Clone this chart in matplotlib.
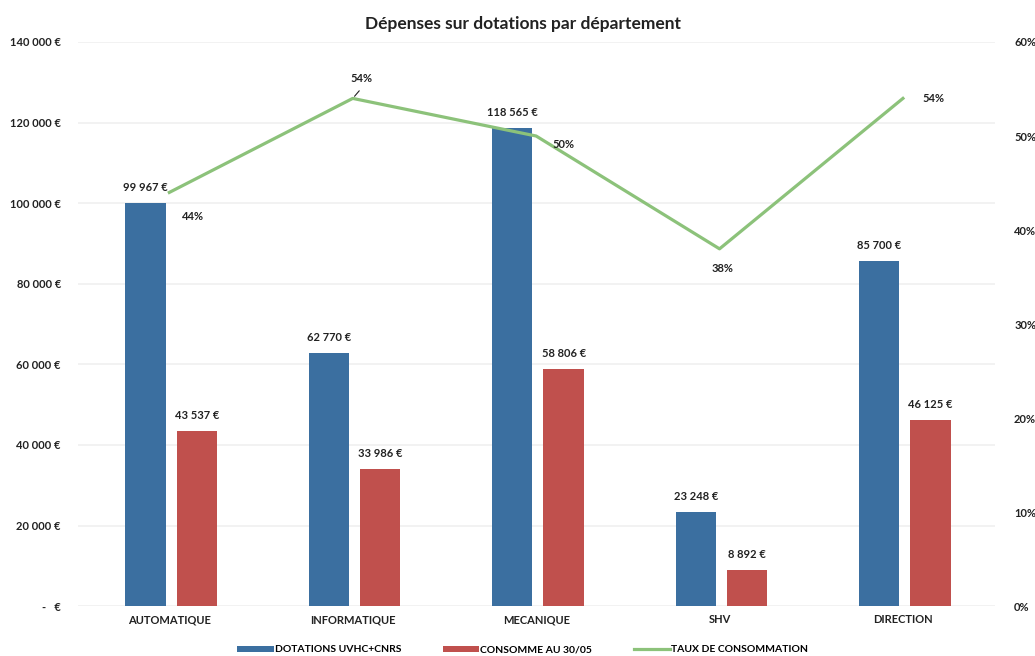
import matplotlib.pyplot as plt
import numpy as np
from matplotlib.ticker import FuncFormatter

plt.rcParams['font.family'] = ['Lato', 'DejaVu Sans']

# Data
departements = ["AUTOMATIQUE", "INFORMATIQUE", "MECANIQUE", "SHV", "DIRECTION"]
dotations = [99967, 62770, 118565, 23248, 85700]
consomme = [43537, 33986, 58806, 8892, 46125]
taux = [0.44, 0.54, 0.50, 0.38, 0.54]

blue = "#3b6fa0"
red = "#c0504d"
green = "#8cc27a"
txt = "#222222"


def euro(v):
    return f"{v:,.0f}".replace(",", " ") + " €"


fig = plt.figure(figsize=(10.35, 6.56), dpi=100)
ax = fig.add_axes([0.075, 0.076, 0.886, 0.860])

x = np.arange(len(departements))
w = 0.22
b1 = ax.bar(x - 0.13, dotations, w, color=blue, zorder=2)
b2 = ax.bar(x + 0.15, consomme, w, color=red, zorder=2)

ax.set_ylim(0, 140000)
ax.set_xlim(-0.5, 4.5)
ax.set_yticks(range(0, 140001, 20000))
ax.yaxis.set_major_formatter(FuncFormatter(lambda v, p: "-   €" if v == 0 else euro(v)))
ax.grid(axis="y", color="#f0f0f0", linewidth=1.2, zorder=0)
ax.set_xticks(x)
ax.set_xticklabels(departements)
ax.tick_params(length=0, labelsize=8, colors=txt, pad=12)
ax.tick_params(axis="x", pad=6)
for lbl in ax.get_xticklabels() + ax.get_yticklabels():
    lbl.set_fontweight("bold")
for s in ax.spines.values():
    s.set_visible(False)

for rect, v in zip(b1, dotations):
    ax.text(rect.get_x() + rect.get_width() / 2, v + 2500, euro(v),
            ha="center", va="bottom", fontsize=8, color=txt, fontweight="bold")
for rect, v in zip(b2, consomme):
    ax.text(rect.get_x() + rect.get_width() / 2, v + 2500, euro(v),
            ha="center", va="bottom", fontsize=8, color=txt, fontweight="bold")

ax2 = ax.twinx()
ax2.set_ylim(0, 0.60)
ax2.set_yticks(np.arange(0, 0.61, 0.1))
ax2.yaxis.set_major_formatter(FuncFormatter(lambda v, p: f"{v * 100:.0f}%"))
ax2.tick_params(length=0, labelsize=8, colors=txt, pad=14)
for lbl in ax2.get_yticklabels():
    lbl.set_fontweight("bold")
for s in ax2.spines.values():
    s.set_visible(False)
line, = ax2.plot(x, taux, color=green, linewidth=2.3, zorder=3)

# line labels
offsets = [(9, -17), (6, 14), (12, -6), (2, -14), (14, 0)]
has = ["left", "center", "left", "center", "left"]
for xi, t, off, ha in zip(x, taux, offsets, has):
    ax2.annotate(f"{t * 100:.0f}%", (xi, t), xytext=off, textcoords="offset points",
                 ha=ha, va="center", fontsize=8, color=txt, fontweight="bold")
# small leader line for INFORMATIQUE label
ax2.annotate("", (x[1], taux[1]), xytext=(6, 7), textcoords="offset points",
             arrowprops=dict(arrowstyle="-", color=txt, lw=0.8))

fig.suptitle("Dépenses sur dotations par département", y=0.975, x=0.505,
             fontsize=12.5, color=txt, fontweight="bold")

fig.legend([b1, b2, line],
           ["DOTATIONS UVHC+CNRS", "CONSOMME AU 30/05", "TAUX DE CONSOMMATION"],
           loc="lower center", bbox_to_anchor=(0.505, -0.012), ncol=3, frameon=False,
           fontsize=7.5, handlelength=3.5, handleheight=0.5, columnspacing=4,
           handletextpad=0.1, prop={"weight": "bold", "size": 7.5})

plt.savefig("out.png", dpi=100)
